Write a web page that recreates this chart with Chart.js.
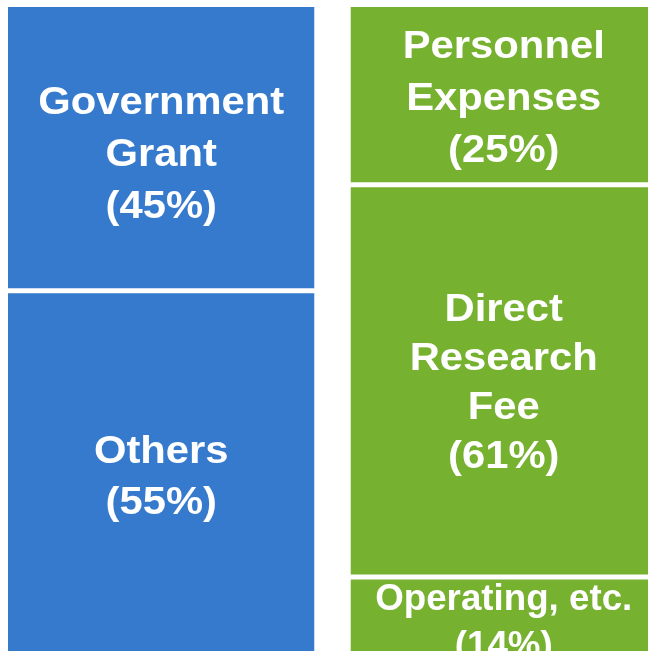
<!DOCTYPE html>
<html>
<head>
<meta charset="utf-8">
<script src="https://cdn.jsdelivr.net/npm/chart.js@4"></script>
<style>
  html, body { margin: 0; padding: 0; background: #fff; overflow: hidden; width: 648px; height: 651px; }
  #chart { position: absolute; left: -10px; top: 0; }
</style>
</head>
<body>
<canvas id="chart" width="685" height="663"></canvas>
<script>
// columns
const columns = ['Revenue', 'Expenditure'];

// segment heights as drawn (share of the column, top to bottom)
const governmentGrant = [43.5, null];
const others = [56.5, null];
const personnelExpenses = [null, 27.4];
const directResearchFee = [null, 59.6];
const operatingEtc = [null, 13.0];

// text shown inside each segment
const segmentTexts = [
    ['Government', 'Grant', '(45%)'],
    ['Others', '(55%)'],
    ['Personnel', 'Expenses', '(25%)'],
    ['Direct', 'Research', 'Fee', '(61%)'],
    ['Operating, etc.', '(14%)']
];

// font size, horizontal stretch, line height, nudge
const textStyles = [
    { size: 39, sx: 1.07, lh: 52, dy: 4 },
    { size: 38, sx: 1.1, lh: 51, dy: -2 },
    { size: 38, sx: 1.1, lh: 52, dy: 1 },
    { size: 38, sx: 1.1, lh: 49, dy: 0 },
    { size: 36, sx: 1.02, lh: 47, dy: 0 }
];

const BLUE = '#357acd';
const GREEN = '#76b230';

function segment(label, data, color) {
    return {
        label: label,
        data: data,
        backgroundColor: color,
        borderColor: '#ffffff',
        borderWidth: { top: 2, bottom: 3, left: 0, right: 0 },
        borderSkipped: false,
        barPercentage: 0.895,
        categoryPercentage: 1
    };
}

// write the labels in the middle of each block
const blockLabels = {
    id: 'blockLabels',
    afterDatasetsDraw(chart) {
        const ctx = chart.ctx;
        ctx.save();
        ctx.fillStyle = '#ffffff';
        ctx.textAlign = 'center';
        ctx.textBaseline = 'alphabetic';
        chart.data.datasets.forEach((ds, i) => {
            const st = textStyles[i];
            ctx.font = 'bold ' + st.size + "px 'Liberation Sans', Arial, sans-serif";
            const meta = chart.getDatasetMeta(i);
            meta.data.forEach((bar, j) => {
                if (ds.data[j] === null) return;
                const p = bar.getProps(['x', 'y', 'base'], true);
                const mid = (p.y + p.base) / 2 + st.dy;
                const lines = segmentTexts[i];
                let y = mid - (lines.length - 1) * st.lh / 2 + st.size * 0.716 / 2;
                lines.forEach(line => {
                    ctx.save();
                    ctx.translate(p.x, y);
                    ctx.scale(st.sx, 1);
                    ctx.fillText(line, 0, 0);
                    ctx.restore();
                    y += st.lh;
                });
            });
        });
        ctx.restore();
    }
};

new Chart(document.getElementById('chart'), {
    type: 'bar',
    data: {
        labels: columns,
        datasets: [
            segment('Government Grant', governmentGrant, BLUE),
            segment('Others', others, BLUE),
            segment('Personnel Expenses', personnelExpenses, GREEN),
            segment('Direct Research Fee', directResearchFee, GREEN),
            segment('Operating, etc.', operatingEtc, GREEN)
        ]
    },
    options: {
        responsive: false,
        animation: false,
        devicePixelRatio: 1,
        layout: { padding: { top: 5, bottom: 0, left: 0, right: 0 } },
        scales: {
            x: { stacked: true, display: false },
            y: { stacked: true, display: false, reverse: true, min: 0, max: 100 }
        },
        plugins: {
            legend: { display: false },
            tooltip: { enabled: false }
        }
    },
    plugins: [blockLabels]
});
</script>
</body>
</html>
